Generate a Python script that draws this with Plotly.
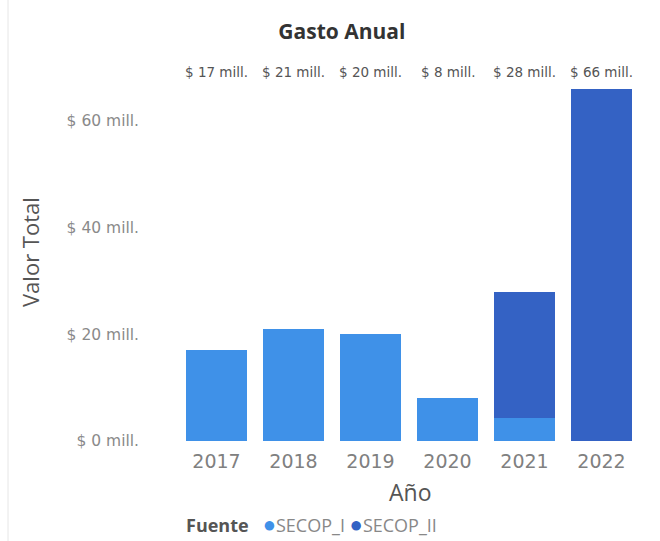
import plotly.graph_objects as go

years = ["2017", "2018", "2019", "2020", "2021", "2022"]
secop_i = [17, 21, 20, 8, 4.3, 0]
secop_ii = [0, 0, 0, 0, 23.7, 66]
totals = [17, 21, 20, 8, 28, 66]
total_labels = ["$ 17 mill.", "$ 21 mill.", "$ 20 mill.", "$ 8 mill.", "$ 28 mill.", "$ 66 mill."]
ytick_vals = [0, 20, 40, 60]
ytick_text = ["$ 0 mill.", "$ 20 mill.", "$ 40 mill.", "$ 60 mill."]
series_names = ["SECOP_I", "SECOP_II"]
x_title = "Año"
y_title = "Valor Total"

c1 = "#3F91E8"
c2 = "#3462C4"
colors = [c1, c2]
font = "Open Sans"
font2 = "DejaVu Sans"

L, R, T, B, W, H = 178, 20, 81, 100, 660, 541
PW, PH = W - L - R, H - T - B


def px(x):
    return (x - L) / PW


def py(y):
    return (H - B - y) / PH


fig = go.Figure()
fig.add_trace(go.Bar(x=years, y=secop_i, name=series_names[0], marker_color=c1, marker_line_width=0))
fig.add_trace(go.Bar(x=years, y=secop_ii, name=series_names[1], marker_color=c2, marker_line_width=0))

for i, lab in enumerate(total_labels):
    fig.add_annotation(x=i, y=py(72), xref="x", yref="paper", yanchor="middle",
                       text=lab, showarrow=False, font=dict(size=13.5, color="#555555", family=font2))

legend_text = "<b>Fuente</b>&nbsp;&nbsp; " + "&nbsp;".join(
    f"<span style='color:{c};font-size:22px'>●</span><span style='color:#888888'>{n}</span>"
    for n, c in zip(series_names, colors))
fig.add_annotation(x=px(184), y=py(523), xref="paper", yref="paper",
                   text=legend_text, showarrow=False, xanchor="left", yanchor="middle",
                   font=dict(size=18, color="#555555", family=font))

fig.add_annotation(x=px(410), y=py(492), xref="paper", yref="paper", text=x_title, showarrow=False,
                   xanchor="center", yanchor="middle", font=dict(size=23, color="#555555", family=font))
fig.add_annotation(x=px(30), y=py(252), xref="paper", yref="paper", text=y_title, showarrow=False,
                   textangle=-90, xanchor="center", yanchor="middle",
                   font=dict(size=22, color="#555555", family=font))

fig.update_layout(
    barmode="stack",
    bargap=0.22,
    width=W, height=H,
    margin=dict(l=L, r=R, t=T, b=B, autoexpand=False),
    paper_bgcolor="white", plot_bgcolor="white",
    font=dict(family=font),
    title=dict(text="<b>Gasto Anual</b>", x=0.518, xanchor="center", y=1 - 32 / H, yanchor="middle",
               font=dict(size=21, color="#333333", family=font)),
    showlegend=False,
    xaxis=dict(type="category", automargin=False,
               tickfont=dict(size=19, color="#808080", family=font2), showgrid=False, showline=False,
               ticks="", ticklabelstandoff=7),
    yaxis=dict(automargin=False,
               range=[0, 67.5], tickvals=ytick_vals, ticktext=ytick_text,
               tickfont=dict(size=15.5, color="#8a8a8a", family=font2), showgrid=False, zeroline=False,
               showline=False, ticklabelstandoff=38),
)
fig.add_shape(type="line", xref="paper", yref="paper", x0=px(8), x1=px(8),
              y0=py(H), y1=py(0), line=dict(color="#e6e6e6", width=1))

fig.write_html("out.html", config={"displayModeBar": False},
               post_script="document.body.style.margin='0px';")
